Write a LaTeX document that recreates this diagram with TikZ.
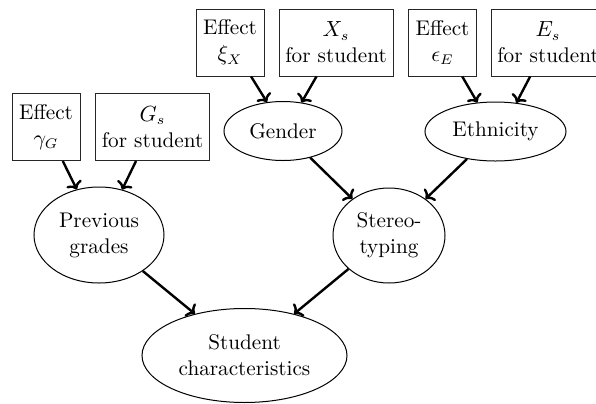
\documentclass[tikz,border=0pt]{standalone}
\usetikzlibrary{shapes.geometric,arrows.meta}
\begin{document}
\begin{tikzpicture}[x=0.5pt,y=-0.5pt,
  every node/.style={font=\fontsize{10.6}{13}\selectfont, align=center, inner sep=0pt},
  param/.style={draw=black!85, line width=0.5pt, rectangle, minimum height=33.5pt},
  narrowbox/.style={param, minimum width=34pt},
  widebox/.style={param, minimum width=57pt},
  factor/.style={draw=black, line width=0.5pt, ellipse},
  link/.style={-{To[length=3.6pt,width=8.4pt]}, line width=1.2pt}]
  \useasboundingbox (0,0) rectangle (596,403);

  % parameter and covariate boxes
  \node[narrowbox] (gamma) at (46,127)    {Effect\\$\gamma_G$};
  \node[widebox]   (Gs)    at (152.5,127) {$G_s$\\for student};
  \node[narrowbox] (xi)    at (230,42.5)  {Effect\\$\xi_X$};
  \node[widebox]   (Xs)    at (336,42.5)  {$X_s$\\for student};
  \node[narrowbox] (eps)   at (442.5,42.5){Effect\\$\epsilon_E$};
  \node[widebox]   (Es)    at (548,42.5)  {$E_s$\\for student};

  % latent factors
  \node[factor, minimum width=59pt,   minimum height=29.5pt] (gender)  at (283,131)     {Gender};
  \node[factor, minimum width=70.5pt, minimum height=29.5pt] (eth)     at (495.5,131.5) {Ethnicity};
  \node[factor, minimum width=65pt,   minimum height=48pt]   (prev)    at (99,235)      {Previous\\grades};
  \node[factor, minimum width=56pt,   minimum height=47.5pt] (stereo)  at (389,235.5)   {Stereo-\\typing};
  \node[factor, minimum width=102.5pt,minimum height=47pt]   (student) at (244.5,355.5) {Student\\characteristics};

  % dependencies
  \draw[link] (gamma) -- (prev.116);
  \draw[link] (Gs)    -- (prev.63);
  \draw[link] (xi)    -- (gender.119);
  \draw[link] (Xs)    -- (gender.57);
  \draw[link] (eps)   -- (eth.122);
  \draw[link] (Es)    -- (eth.54);
  \draw[link] (gender) -- (stereo.135);
  \draw[link] (eth)    -- (stereo.45);
  \draw[link] (prev)   -- (student.140);
  \draw[link] (stereo) -- (student.40);
\end{tikzpicture}
\end{document}
